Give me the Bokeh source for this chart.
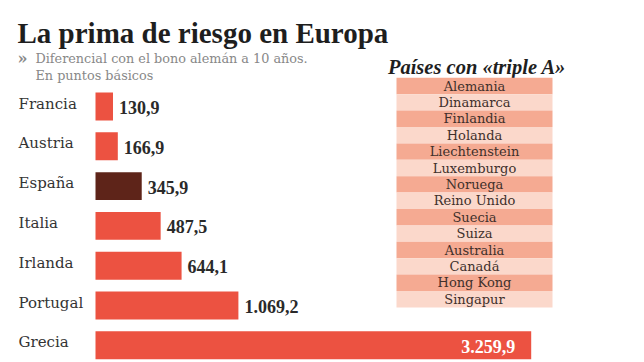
from bokeh.plotting import figure
from bokeh.models import Range1d, ColumnDataSource
from bokeh.core.properties import value
from bokeh.embed import file_html
from bokeh.resources import INLINE

# ---- data ----
countries = ["Francia", "Austria", "España", "Italia", "Irlanda", "Portugal", "Grecia"]
spreads = [130.9, 166.9, 345.9, 487.5, 644.1, 1069.2, 3259.9]
highlight = "España"
aaa_countries = ["Alemania", "Dinamarca", "Finlandia", "Holanda", "Liechtenstein",
                 "Luxemburgo", "Noruega", "Reino Unido", "Suecia", "Suiza",
                 "Australia", "Canadá", "Hong Kong", "Singapur"]
title_text = "La prima de riesgo en Europa"
subtitle_lines = ["Diferencial con el bono alemán a 10 años.", "En puntos básicos"]
table_title = "Países con «triple A»"

# ---- layout (page pixels) ----
W, H = 644, 362
OFF = 0
BAR_X0 = 95          # page x of value 0
BAR_XMAX = 530.7     # page x of the largest value
ROW0_Y = 106         # page y of first bar centre
ROW_STEP = 39.8

k = (BAR_XMAX - BAR_X0) / max(spreads)
x0c = BAR_X0 - OFF
y0c = ROW0_Y - OFF

p = figure(width=W, height=H, output_backend="svg", toolbar_location=None,
           x_axis_location=None, y_axis_location=None, min_border=0,
           x_range=Range1d(-x0c / k, (W - x0c) / k),
           y_range=Range1d((H - y0c) / ROW_STEP, -y0c / ROW_STEP))
p.outline_line_color = None
p.xgrid.visible = False
p.ygrid.visible = False
p.background_fill_color = "white"
p.border_fill_color = "white"


def px(xpage):
    return (xpage - OFF - x0c) / k


def py(ypage):
    return (ypage - OFF - y0c) / ROW_STEP


RED = "#ec5241"
DARK = "#5e2419"

idx = list(range(len(countries)))
bar_colors = [DARK if c == highlight else RED for c in countries]
src = ColumnDataSource(dict(y=idx, v=spreads, c=bar_colors, name=countries))
p.hbar(y="y", left=0, right="v", height=0.7, fill_color="c", line_color=None, source=src)


def fmt(v):
    return f"{v:,.1f}".replace(",", "X").replace(".", ",").replace("X", ".")


vmax = max(spreads)
inside = [v > 0.6 * vmax for v in spreads]
out_src = ColumnDataSource(dict(y=[i for i, f in zip(idx, inside) if not f],
                                x=[v for v, f in zip(spreads, inside) if not f],
                                t=[fmt(v) for v, f in zip(spreads, inside) if not f]))
in_src = ColumnDataSource(dict(y=[i for i, f in zip(idx, inside) if f],
                               x=[v for v, f in zip(spreads, inside) if f],
                               t=[fmt(v) for v, f in zip(spreads, inside) if f]))
p.text(x="x", y="y", text="t", source=out_src, x_offset=6, y_offset=1,
       text_font=value("Liberation Serif"), text_font_style="bold",
       text_font_size="18px", text_color="#2a2a2a", text_align="left",
       text_baseline="middle")
p.text(x="x", y="y", text="t", source=in_src, x_offset=-16, y_offset=1,
       text_font=value("Liberation Serif"), text_font_style="bold",
       text_font_size="18px", text_color="white", text_align="right",
       text_baseline="middle")

# country labels
p.text(x=[px(18)] * len(countries), y=idx, text=countries, y_offset=-3,
       text_font=value("DejaVu Serif"), text_font_size="15px", text_color="#333333",
       text_align="left", text_baseline="middle")

# title / subtitle
p.text(x=[px(17)], y=[py(32.5)], text=[title_text],
       text_font=value("Liberation Serif"), text_font_style="bold",
       text_font_size="29px", text_color="#1e1e1e", text_baseline="alphabetic")
p.text(x=[px(17)], y=[py(58)], text=["»"],
       text_font=value("DejaVu Serif"), text_font_style="bold",
       text_font_size="16px", text_color="#8a8a8a",
       text_baseline="alphabetic")
p.text(x=[px(35), px(35)], y=[py(57.5), py(74.5)], text=subtitle_lines,
       text_font=value("DejaVu Serif"), text_font_size="12.8px", text_color="#888888",
       text_baseline="alphabetic")

# table
TX0, TX1 = 396, 552
TY0 = 77.3
TROW = 16.4
p.text(x=[px((387 + 566) / 2)], y=[py(66)], text=[table_title],
       text_font=value("Liberation Serif"), text_font_style="bold italic",
       text_font_size="20.5px", text_color="#1e1e1e", text_align="center",
       text_baseline="alphabetic")
n = len(aaa_countries)
tops = [py(TY0 + i * TROW) for i in range(n)]
bottoms = [py(TY0 + (i + 1) * TROW) for i in range(n)]
row_colors = ["#f5aa92" if i % 2 == 0 else "#fbd8cb" for i in range(n)]
p.quad(left=px(TX0), right=px(TX1), top=tops, bottom=bottoms,
       fill_color=row_colors, line_color=None)
p.text(x=[px((TX0 + TX1) / 2)] * n, y=[(t + b) / 2 for t, b in zip(tops, bottoms)],
       text=aaa_countries, text_font=value("DejaVu Serif"), text_font_size="13px",
       text_color="#40302b", text_align="center", text_baseline="middle")

open("out.html", "w").write(file_html(p, INLINE))
